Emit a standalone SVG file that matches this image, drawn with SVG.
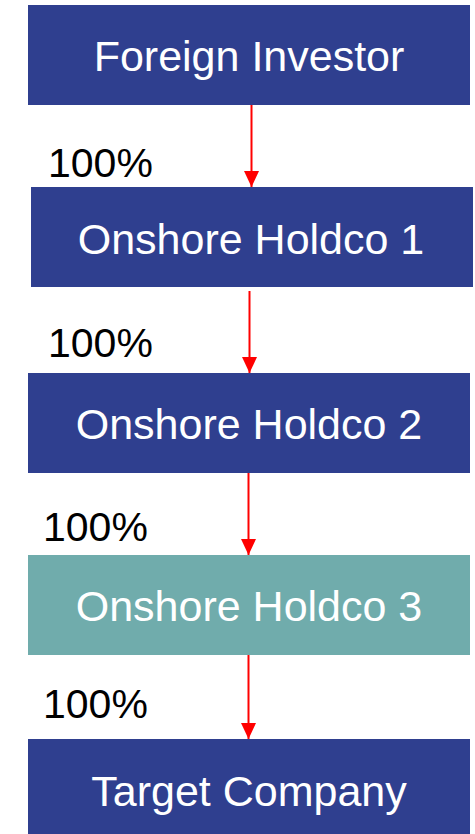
<svg xmlns="http://www.w3.org/2000/svg" width="475" height="834" viewBox="0 0 475 834">
  <style>
    .box { fill: #2F3F8F; }
    .box.alt { fill: #70ACAC; }
    .name { font-family: "Liberation Sans", Arial, sans-serif; font-size: 43px; fill: #FFFFFF; text-anchor: middle; }
    .pct { font-family: "Liberation Sans", Arial, sans-serif; font-size: 41px; fill: #000000; }
    .link { stroke: #FF0000; stroke-width: 2; fill: none; marker-end: url(#arrow); }
  </style>
  <defs>
    <marker id="arrow" markerUnits="userSpaceOnUse" markerWidth="16" markerHeight="15" refX="16" refY="7.5" orient="auto">
      <path d="M0,0 L16,7.5 L0,15 Z" fill="#FF0000"/>
    </marker>
  </defs>
  <rect width="475" height="834" fill="#FFFFFF"/>

  <g id="connectors">
    <line class="link" x1="251.5" y1="105" x2="251.5" y2="187"/>
    <line class="link" x1="249.5" y1="291" x2="249.5" y2="373"/>
    <line class="link" x1="248.5" y1="473" x2="248.5" y2="555"/>
    <line class="link" x1="248.5" y1="655" x2="248.5" y2="739"/>
    <text class="pct" x="48" y="177">100%</text>
    <text class="pct" x="48" y="357">100%</text>
    <text class="pct" x="43" y="541">100%</text>
    <text class="pct" x="43" y="718">100%</text>
  </g>

  <g id="foreign-investor">
    <rect class="box" x="28" y="5" width="442" height="100"/>
    <text class="name" x="249" y="71">Foreign Investor</text>
  </g>
  <g id="onshore-holdco-1">
    <rect class="box" x="31" y="187" width="442" height="100"/>
    <text class="name" x="251" y="254">Onshore Holdco 1</text>
  </g>
  <g id="onshore-holdco-2">
    <rect class="box" x="28" y="373" width="442" height="100"/>
    <text class="name" x="249" y="439">Onshore Holdco 2</text>
  </g>
  <g id="onshore-holdco-3">
    <rect class="box alt" x="28" y="555" width="442" height="100"/>
    <text class="name" x="249" y="621">Onshore Holdco 3</text>
  </g>
  <g id="target-company">
    <rect class="box" x="28" y="739" width="442" height="95"/>
    <text class="name" x="249" y="806">Target Company</text>
  </g>
</svg>
